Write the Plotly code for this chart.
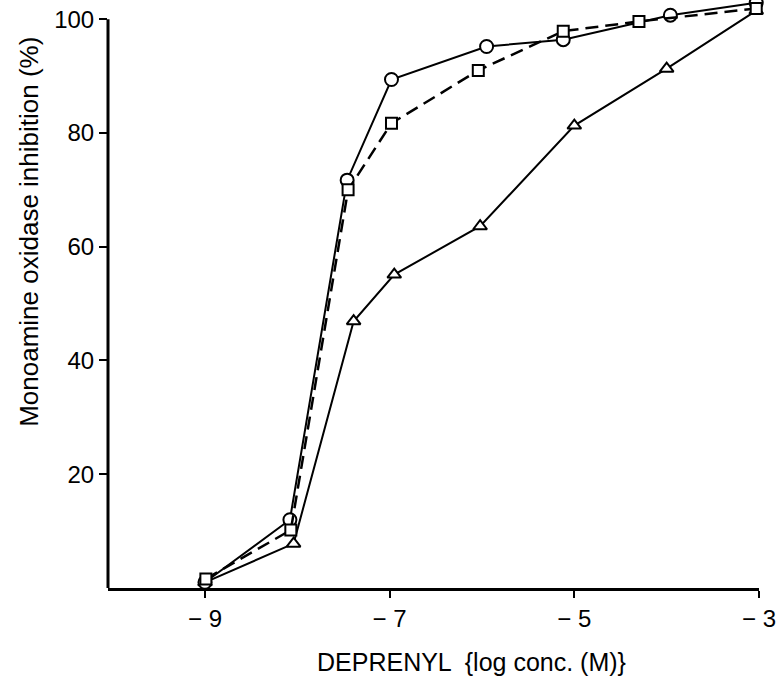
import plotly.graph_objects as go

# Data (x: log conc. (M), y: % MAO inhibition)
circ_x = [-9.0, -8.08, -7.46, -6.98, -5.95, -5.12, -3.96, -3.03]
circ_y = [1.0, 12.0, 71.7, 89.4, 95.2, 96.4, 100.7, 102.9]

sq_x = [-8.99, -8.07, -7.45, -6.98, -6.04, -5.12, -4.3, -3.03]
sq_y = [1.6, 10.2, 70.0, 81.7, 91.0, 97.9, 99.6, 101.9]

tri_x = [-9.0, -8.04, -7.39, -6.95, -6.02, -5.0, -4.0, -3.03]
tri_y = [1.0, 7.8, 46.9, 55.1, 63.6, 81.3, 91.3, 101.5]

x_tickvals = [-9, -7, -5, -3]
x_ticktext = ["− 9", "− 7", "− 5", "− 3"]
y_tickvals = [20, 40, 60, 80, 100]
y_ticktext = ["20", "40", "60", "80", "100"]

x_title = "DEPRENYL  {log conc. (M)}"
y_title = "Monoamine oxidase inhibition (%)"

FONT = "Liberation Sans, Arial, Helvetica, sans-serif"

# plot area geometry (pixels)
L, R, T, B = 108, 11, 1, 91
W, H = 777, 679
PW, PH = W - L - R, H - T - B
Y_TOP = 103.2  # axis range top so that 100 sits ~19 px from the top

fig = go.Figure()

fig.add_trace(go.Scatter(
    x=tri_x, y=tri_y, mode="lines+markers",
    line=dict(color="black", width=2),
    marker=dict(symbol="triangle-up", size=12, color="white",
                line=dict(color="black", width=2)),
    cliponaxis=False, showlegend=False))

fig.add_trace(go.Scatter(
    x=circ_x, y=circ_y, mode="lines+markers",
    line=dict(color="black", width=2),
    marker=dict(symbol="circle", size=13, color="white",
                line=dict(color="black", width=2)),
    cliponaxis=False, showlegend=False))

fig.add_trace(go.Scatter(
    x=sq_x, y=sq_y, mode="lines+markers",
    line=dict(color="black", width=2.5, dash="13px,7px"),
    marker=dict(symbol="square", size=11, color="white",
                line=dict(color="black", width=2)),
    cliponaxis=False, showlegend=False))

fig.update_layout(
    width=W, height=H,
    margin=dict(l=L, r=R, t=T, b=B),
    paper_bgcolor="white", plot_bgcolor="white",
    font=dict(family=FONT, color="black", size=24),
    xaxis=dict(
        range=[-10.05, -3.0], showgrid=False, zeroline=False,
        showline=True, linecolor="black", linewidth=3,
        ticks="outside", ticklen=7, tickwidth=2, tickcolor="black",
        tickvals=x_tickvals, ticktext=x_ticktext,
        ticklabeloverflow="allow",
        tickfont=dict(size=24, family=FONT)),
    yaxis=dict(
        range=[0, Y_TOP], showgrid=False, zeroline=False,
        showline=False,
        ticks="outside", ticklen=8, tickwidth=2, tickcolor="black",
        tickvals=y_tickvals, ticktext=y_ticktext,
        tickfont=dict(size=24, family=FONT)),
    shapes=[
        dict(type="line", xref="paper", yref="y", x0=0, x1=0,
             y0=0, y1=100, line=dict(color="black", width=3)),
    ],
    annotations=[
        dict(text=x_title, xref="paper", yref="paper",
             x=(475 - L) / PW, y=-(662 - (H - B)) / PH,
             xanchor="center", yanchor="middle", showarrow=False,
             font=dict(size=25, family=FONT)),
        dict(text=y_title, xref="paper", yref="paper",
             x=-(L - 28) / PW, y=((H - B) - 232) / PH,
             xanchor="center", yanchor="middle", showarrow=False,
             textangle=-90, font=dict(size=26, family=FONT)),
    ],
)

fig.write_html("out.html")
